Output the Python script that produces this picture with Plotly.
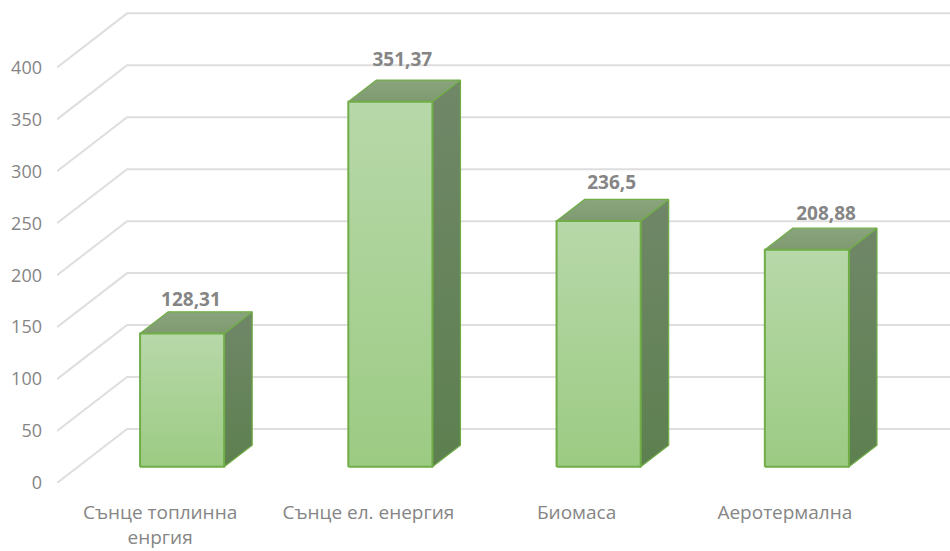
import plotly.graph_objects as go

categories = ["Сънце топлинна<br>енргия", "Сънце ел. енергия", "Биомаса", "Аеротермална"]
values = [128.31, 351.37, 236.5, 208.88]
value_labels = ["128,31", "351,37", "236,5", "208,88"]
y_ticks = [0, 50, 100, 150, 200, 250, 300, 350, 400]

# 3D-look geometry (in axis units)
DX, DY = 70 / 208, 52.0      # full depth shear
NEAR, FAR = 0.30, 0.70       # bar depth fractions
BAR_W = 84 / 208
BAR_NUDGE = 1 / 208
X_MIN, X_MAX = -0.495, 3.793
label_dx = [-0.02, -0.005, -0.00, 0.03]
label_dy = [10, 18, 15, 12]

GRID = "#dedede"
TXT = "#858585"
EDGE = "#70ad47"

fig = go.Figure()

# wall gridlines
gx, gy = [], []
for v in y_ticks:
    gx += [X_MIN, X_MIN + DX, X_MAX, None]
    gy += [v, v + DY, v + DY, None]
fig.add_trace(go.Scatter(x=gx, y=gy, mode="lines", line=dict(color=GRID, width=2),
                         hoverinfo="skip", showlegend=False))


def face(xs, ys, c_low, c_high, width):
    fig.add_trace(go.Scatter(
        x=xs + xs[:1], y=ys + ys[:1], mode="lines", fill="toself",
        line=dict(color=EDGE, width=width),
        fillgradient=dict(type="vertical", colorscale=[[0, c_low], [1, c_high]]),
        hoverinfo="skip", showlegend=False))


for i, v in enumerate(values):
    x0 = i + NEAR * DX - BAR_W / 2 + BAR_NUDGE
    x1 = x0 + BAR_W
    b0 = NEAR * DY
    t0 = v + b0
    sx = (FAR - NEAR) * DX
    sy = (FAR - NEAR) * DY
    face([x1, x1 + sx, x1 + sx, x1], [b0, b0 + sy, t0 + sy, t0], "#5d8050", "#708768", 1.2)
    face([x0, x1, x1 + sx, x0 + sx], [t0, t0, t0 + sy, t0 + sy], "#7f9a70", "#8aa57d", 1.2)
    face([x0, x1, x1, x0], [b0, b0, t0, t0], "#9ccb83", "#b7d8a9", 2)

fig.add_trace(go.Scatter(
    x=[i + 0.5 * DX + d for i, d in enumerate(label_dx)],
    y=[v + FAR * DY + d for v, d in zip(values, label_dy)],
    mode="text", text=value_labels,
    textfont=dict(family="Open Sans", size=19, color=TXT, weight="bold"),
    textposition="middle center", hoverinfo="skip", showlegend=False))

fig.update_layout(
    width=950, height=551, autosize=False,
    margin=dict(l=57, r=0, t=0, b=68),
    paper_bgcolor="white", plot_bgcolor="white",
    showlegend=False,
    font=dict(family="Open Sans", color=TXT, size=16),
    xaxis=dict(range=[X_MIN, X_MAX], tickmode="array", tickvals=list(range(len(categories))),
               ticktext=categories, showgrid=False, zeroline=False, showline=False,
               ticks="", ticklabelstandoff=16, tickfont=dict(size=19, color=TXT)),
    yaxis=dict(range=[0, 483 / 1.039], tickmode="array", tickvals=y_ticks,
               showgrid=False, zeroline=False, showline=False,
               ticks="", ticklabelstandoff=14, tickfont=dict(size=18, color=TXT)),
)

fig.write_html("out.html", config={"displayModeBar": False},
               post_script="document.body.style.margin='0';document.body.style.overflow='hidden';")
